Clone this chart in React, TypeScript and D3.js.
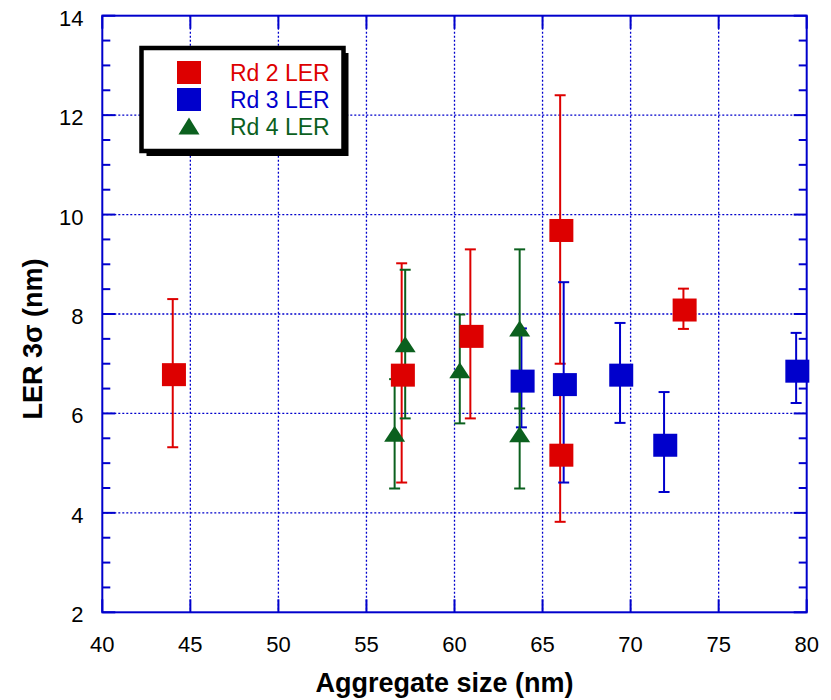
import React from 'react';
import * as d3 from 'd3';

// Rd 2 LER (red squares)
const rd2X = [44.0, 57.0, 60.9, 66.0, 66.0, 73.0];
const rd2Y = [6.78, 6.77, 7.55, 9.68, 5.16, 8.08];
const rd2Lo = [5.32, 4.61, 5.9, 7.0, 3.82, 7.7];
const rd2Hi = [8.3, 9.02, 9.3, 12.4, 6.5, 8.51];

// Rd 3 LER (blue squares)
const rd3X = [63.8, 66.2, 69.4, 71.9, 79.4];
const rd3Y = [6.65, 6.58, 6.77, 5.36, 6.85];
const rd3Lo = [5.72, 4.61, 5.81, 4.42, 6.21];
const rd3Hi = [7.71, 8.64, 7.82, 6.43, 7.62];

// Rd 4 LER (green triangles)
const rd4X = [56.6, 57.2, 60.3, 63.7, 63.7];
const rd4Y = [5.59, 7.39, 6.87, 7.71, 5.58];
const rd4Lo = [4.49, 5.9, 5.8, 6.1, 4.49];
const rd4Hi = [6.69, 8.89, 7.99, 9.3, 6.67];

const xTicks = [40, 45, 50, 55, 60, 65, 70, 75, 80];
const yTicks = [2, 4, 6, 8, 10, 12, 14];

const RED = '#dd0000';
const BLUE = '#0000cc';
const GREEN = '#0b601e';
const AXIS = '#0000cc';
const FONT = 'Arial, "Liberation Sans", sans-serif';

const left = 102.3;
const right = 806.7;
const top = 15.7;
const bottom = 612.3;

const x = d3.scaleLinear().domain([40, 80]).range([left, right]);
const y = d3.scaleLinear().domain([2, 14]).range([bottom, top]);

const minorY = d3.range(2, 14.001, 0.5).filter(v => Math.abs(v % 2) > 0.01);

type Series = { name: string; color: string; shape: 'square' | 'triangle'; xs: number[]; ys: number[]; lo: number[]; hi: number[] };

const series: Series[] = [
  { name: 'Rd 2 LER', color: RED, shape: 'square', xs: rd2X, ys: rd2Y, lo: rd2Lo, hi: rd2Hi },
  { name: 'Rd 3 LER', color: BLUE, shape: 'square', xs: rd3X, ys: rd3Y, lo: rd3Lo, hi: rd3Hi },
  { name: 'Rd 4 LER', color: GREEN, shape: 'triangle', xs: rd4X, ys: rd4Y, lo: rd4Lo, hi: rd4Hi },
];

const Marker = ({ shape, cx, cy, color, w, h }: { shape: string; cx: number; cy: number; color: string; w: number; h: number }) => {
  if (shape === 'square') {
    return <rect x={cx - w / 2} y={cy - h / 2} width={w} height={h} fill={color} />;
  }
  const p = `M${cx},${cy - h / 2}L${cx + w / 2},${cy + h / 2}L${cx - w / 2},${cy + h / 2}Z`;
  return <path d={p} fill={color} />;
};

export default function App() {
  const cap = 5.5;
  return (
    <svg width={831} height={700} style={{ position: 'absolute', left: 0, top: 0, background: '#fff' }}>
      {/* dotted grid */}
      <g stroke={AXIS} strokeWidth={1.3} strokeDasharray="2,2">
        {xTicks.slice(1, -1).map(t => (
          <line key={'gx' + t} x1={x(t)} x2={x(t)} y1={top} y2={bottom} />
        ))}
        {yTicks.slice(1, -1).map(t => (
          <line key={'gy' + t} x1={left} x2={right} y1={y(t)} y2={y(t)} />
        ))}
      </g>

      {/* error bars first */}
      {series.map(s => (
        <g key={'eb' + s.name} stroke={s.color} strokeWidth={2}>
          {s.xs.map((xv, i) => (
            <g key={i}>
              <line x1={x(xv)} x2={x(xv)} y1={y(s.lo[i])} y2={y(s.hi[i])} />
              <line x1={x(xv) - cap} x2={x(xv) + cap} y1={y(s.lo[i])} y2={y(s.lo[i])} />
              <line x1={x(xv) - cap} x2={x(xv) + cap} y1={y(s.hi[i])} y2={y(s.hi[i])} />
            </g>
          ))}
        </g>
      ))}

      {/* markers */}
      {series.map(s => (
        <g key={'mk' + s.name}>
          {s.xs.map((xv, i) =>
            s.shape === 'square' ? (
              <Marker key={i} shape="square" cx={x(xv) + 1.2} cy={y(s.ys[i])} color={s.color} w={24} h={23} />
            ) : (
              <Marker key={i} shape="triangle" cx={x(xv)} cy={y(s.ys[i])} color={s.color} w={21} h={16} />
            )
          )}
        </g>
      ))}

      {/* axes frame */}
      <rect x={left} y={top} width={right - left} height={bottom - top} fill="none" stroke={AXIS} strokeWidth={2} />
      <g stroke={AXIS} strokeWidth={2}>
        {xTicks.map(t => (
          <g key={'tx' + t}>
            <line x1={x(t)} x2={x(t)} y1={bottom} y2={bottom - 13} />
            <line x1={x(t)} x2={x(t)} y1={top} y2={top + 13} />
          </g>
        ))}
        {yTicks.map(t => (
          <g key={'ty' + t}>
            <line x1={left} x2={left + 13} y1={y(t)} y2={y(t)} />
            <line x1={right} x2={right - 13} y1={y(t)} y2={y(t)} />
          </g>
        ))}
        {minorY.map(t => (
          <g key={'my' + t}>
            <line x1={left} x2={left + 8} y1={y(t)} y2={y(t)} />
            <line x1={right} x2={right - 8} y1={y(t)} y2={y(t)} />
          </g>
        ))}
      </g>

      {/* tick labels */}
      <g fontFamily={FONT} fontSize={22} fill="#000">
        {xTicks.map(t => (
          <text key={'lx' + t} x={x(t)} y={652} textAnchor="middle">{t}</text>
        ))}
        {yTicks.map(t => (
          <text key={'ly' + t} x={83.5} y={y(t) + 10} textAnchor="end">{t}</text>
        ))}
      </g>

      {/* axis titles */}
      <text x={444.5} y={692} textAnchor="middle" fontFamily={FONT} fontSize={27} fontWeight="bold">
        Aggregate size (nm)
      </text>
      <text
        transform="translate(42,339) rotate(-90)"
        textAnchor="middle"
        fontFamily={FONT}
        fontSize={27}
        fontWeight="bold"
      >
        LER 3σ (nm)
      </text>

      {/* legend */}
      <g>
        <rect x={146.5} y={53} width={202} height={103} fill="#000" />
        <rect x={141.5} y={48} width={202} height={103} fill="#fff" stroke="#000" strokeWidth={4.5} />
        {series.map((s, i) => {
          const cy = 72.5 + i * 27;
          return (
            <g key={'lg' + s.name}>
              {s.shape === 'square' ? (
                <Marker shape="square" cx={189} cy={cy} color={s.color} w={24} h={23} />
              ) : (
                <Marker shape="triangle" cx={189} cy={cy - 0.5} color={s.color} w={21} h={17} />
              )}
              <text x={230} y={cy + 8} fontFamily={FONT} fontSize={23} fill={s.color}>
                {s.name}
              </text>
            </g>
          );
        })}
      </g>
    </svg>
  );
}
